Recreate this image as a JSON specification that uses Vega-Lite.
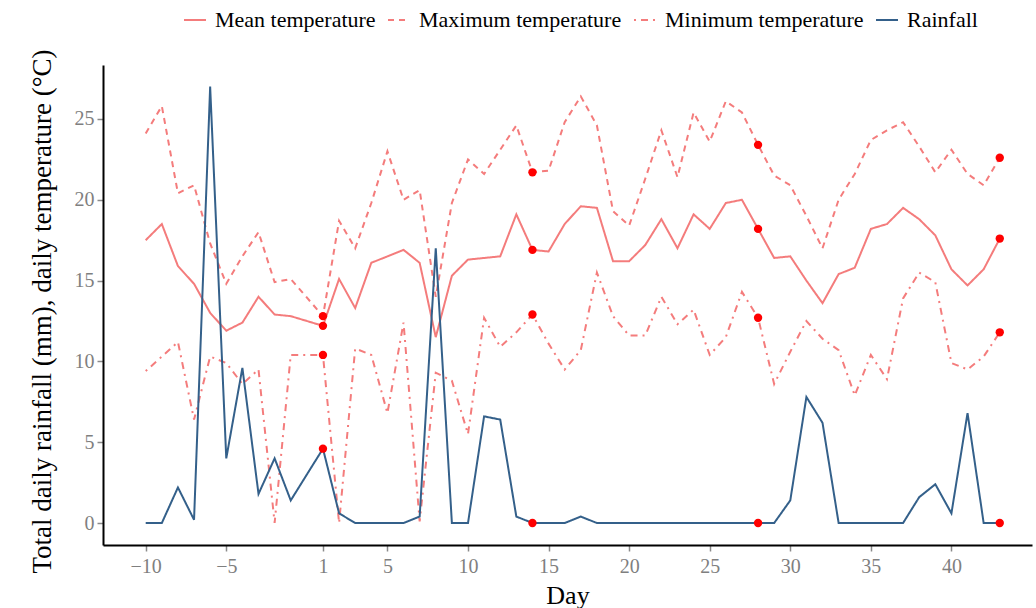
{
  "$schema": "https://vega.github.io/schema/vega-lite/v6.json",
  "width": 929,
  "height": 480,
  "autosize": {"type": "none"},
  "padding": {"left": 103, "top": 65, "right": 4, "bottom": 63},
  "background": "white",
  "config": {
    "font": "Liberation Serif",
    "view": {"stroke": null},
    "axis": {
      "grid": false,
      "domainColor": "black",
      "domainWidth": 2,
      "tickColor": "#8a8a8a",
      "tickWidth": 1.5,
      "tickSize": 6,
      "labelColor": "#7f7f7f",
      "labelFontSize": 20,
      "labelFont": "Liberation Serif",
      "titleFont": "Liberation Serif",
      "titleFontSize": 26,
      "titleFontWeight": "normal",
      "titleColor": "black"
    }
  },
  "data": {
    "values": [
      {"day": -10, "mean": 17.5, "max": 24.1, "min": 9.4, "rain": 0},
      {"day": -9, "mean": 18.5, "max": 25.8, "min": 10.3, "rain": 0},
      {"day": -8, "mean": 15.9, "max": 20.4, "min": 11.2, "rain": 2.2},
      {"day": -7, "mean": 14.8, "max": 20.9, "min": 6.4, "rain": 0.2},
      {"day": -6, "mean": 13.0, "max": 17.3, "min": 10.3, "rain": 27.0},
      {"day": -5, "mean": 11.9, "max": 14.8, "min": 9.9, "rain": 4.0},
      {"day": -4, "mean": 12.4, "max": 16.5, "min": 8.6, "rain": 9.6},
      {"day": -3, "mean": 14.0, "max": 18.0, "min": 9.5, "rain": 1.8},
      {"day": -2, "mean": 12.9, "max": 14.9, "min": 0.0, "rain": 4.0},
      {"day": -1, "mean": 12.8, "max": 15.1, "min": 10.4, "rain": 1.4},
      {"day": 1, "mean": 12.2, "max": 12.8, "min": 10.4, "rain": 4.6},
      {"day": 2, "mean": 15.1, "max": 18.7, "min": 0.0, "rain": 0.6},
      {"day": 3, "mean": 13.3, "max": 17.0, "min": 10.8, "rain": 0},
      {"day": 4, "mean": 16.1, "max": 19.8, "min": 10.4, "rain": 0},
      {"day": 5, "mean": 16.5, "max": 23.0, "min": 6.8, "rain": 0},
      {"day": 6, "mean": 16.9, "max": 20.0, "min": 12.4, "rain": 0},
      {"day": 7, "mean": 16.1, "max": 20.6, "min": 0.1, "rain": 0.4},
      {"day": 8, "mean": 11.5, "max": 14.0, "min": 9.3, "rain": 17.0},
      {"day": 9, "mean": 15.3, "max": 19.8, "min": 8.8, "rain": 0},
      {"day": 10, "mean": 16.3, "max": 22.5, "min": 5.5, "rain": 0},
      {"day": 11, "mean": 16.4, "max": 21.6, "min": 12.7, "rain": 6.6},
      {"day": 12, "mean": 16.5, "max": 23.1, "min": 10.9, "rain": 6.4},
      {"day": 13, "mean": 19.1, "max": 24.6, "min": 11.8, "rain": 0.4},
      {"day": 14, "mean": 16.9, "max": 21.7, "min": 12.9, "rain": 0},
      {"day": 15, "mean": 16.8, "max": 21.8, "min": 11.1, "rain": 0},
      {"day": 16, "mean": 18.5, "max": 24.8, "min": 9.5, "rain": 0},
      {"day": 17, "mean": 19.6, "max": 26.4, "min": 10.7, "rain": 0.4},
      {"day": 18, "mean": 19.5, "max": 24.6, "min": 15.5, "rain": 0},
      {"day": 19, "mean": 16.2, "max": 19.3, "min": 12.8, "rain": 0},
      {"day": 20, "mean": 16.2, "max": 18.4, "min": 11.6, "rain": 0},
      {"day": 21, "mean": 17.2, "max": 21.3, "min": 11.6, "rain": 0},
      {"day": 22, "mean": 18.8, "max": 24.3, "min": 14.0, "rain": 0},
      {"day": 23, "mean": 17.0, "max": 21.4, "min": 12.3, "rain": 0},
      {"day": 24, "mean": 19.1, "max": 25.4, "min": 13.2, "rain": 0},
      {"day": 25, "mean": 18.2, "max": 23.6, "min": 10.4, "rain": 0},
      {"day": 26, "mean": 19.8, "max": 26.1, "min": 11.5, "rain": 0},
      {"day": 27, "mean": 20.0, "max": 25.4, "min": 14.3, "rain": 0},
      {"day": 28, "mean": 18.2, "max": 23.4, "min": 12.7, "rain": 0},
      {"day": 29, "mean": 16.4, "max": 21.5, "min": 8.6, "rain": 0},
      {"day": 30, "mean": 16.5, "max": 20.9, "min": 10.6, "rain": 1.4},
      {"day": 31, "mean": 15.0, "max": 19.0, "min": 12.5, "rain": 7.8},
      {"day": 32, "mean": 13.6, "max": 17.0, "min": 11.4, "rain": 6.2},
      {"day": 33, "mean": 15.4, "max": 20.0, "min": 10.7, "rain": 0},
      {"day": 34, "mean": 15.8, "max": 21.6, "min": 7.9, "rain": 0},
      {"day": 35, "mean": 18.2, "max": 23.7, "min": 10.4, "rain": 0},
      {"day": 36, "mean": 18.5, "max": 24.3, "min": 8.9, "rain": 0},
      {"day": 37, "mean": 19.5, "max": 24.8, "min": 13.9, "rain": 0},
      {"day": 38, "mean": 18.8, "max": 23.3, "min": 15.5, "rain": 1.6},
      {"day": 39, "mean": 17.8, "max": 21.7, "min": 14.9, "rain": 2.4},
      {"day": 40, "mean": 15.7, "max": 23.1, "min": 9.9, "rain": 0.6},
      {"day": 41, "mean": 14.7, "max": 21.6, "min": 9.5, "rain": 6.8},
      {"day": 42, "mean": 15.7, "max": 20.9, "min": 10.3, "rain": 0},
      {"day": 43, "mean": 17.6, "max": 22.6, "min": 11.8, "rain": 0}
    ]
  },
  "transform": [{"fold": ["mean", "max", "min", "rain"], "as": ["series", "value"]}],
  "encoding": {
    "x": {
      "field": "day",
      "type": "quantitative",
      "scale": {"domain": [-12.65, 45], "nice": false, "zero": false},
      "axis": {
        "title": "Day",
        "values": [-10, -5, 1, 5, 10, 15, 20, 25, 30, 35, 40],
        "labelPadding": 5,
        "titleY": 58,
        "titleBaseline": "alphabetic",
        "titleAnchor": "middle"
      }
    },
    "y": {
      "field": "value",
      "type": "quantitative",
      "scale": {"domain": [-1.36, 28.34], "nice": false, "zero": false},
      "axis": {
        "title": "Total daily rainfall (mm), daily temperature (°C)",
        "titleFontSize": 27,
        "values": [0, 5, 10, 15, 20, 25],
        "labelPadding": 3,
        "titleX": -53,
        "titleY": 246,
        "titleAngle": -90,
        "titleBaseline": "alphabetic",
        "titleAnchor": "middle"
      }
    }
  },
  "layer": [
    {
      "mark": {"type": "line", "strokeWidth": 2},
      "encoding": {
        "color": {
          "field": "series",
          "type": "nominal",
          "sort": ["mean", "max", "min", "rain"],
          "scale": {"domain": ["mean", "max", "min", "rain"], "range": ["#F47C7C", "#F47C7C", "#F47C7C", "#34608A"]},
          "legend": {
            "title": null,
            "orient": "none",
            "legendX": 80,
            "legendY": -57,
            "direction": "horizontal",
            "symbolType": "stroke",
            "symbolSize": 484,
            "symbolStrokeWidth": 2,
            "labelFontSize": 22,
            "labelLimit": 0,
            "labelColor": "black",
            "labelFont": "Liberation Serif",
            "columnPadding": 8,
            "labelOffset": 8,
            "labelExpr": "datum.label == 'mean' ? 'Mean temperature' : datum.label == 'max' ? 'Maximum temperature' : datum.label == 'min' ? 'Minimum temperature' : 'Rainfall'"
          }
        },
        "strokeDash": {
          "field": "series",
          "type": "nominal",
          "sort": ["mean", "max", "min", "rain"],
          "scale": {"domain": ["mean", "max", "min", "rain"], "range": [[1, 0], [6, 5], [2, 5, 7, 5], [1, 0]]},
          "legend": {
            "title": null,
            "orient": "none",
            "legendX": 80,
            "legendY": -57,
            "direction": "horizontal",
            "symbolType": "stroke",
            "symbolSize": 484,
            "symbolStrokeWidth": 2,
            "labelFontSize": 22,
            "labelLimit": 0,
            "labelColor": "black",
            "labelFont": "Liberation Serif",
            "columnPadding": 8,
            "labelOffset": 8,
            "labelExpr": "datum.label == 'mean' ? 'Mean temperature' : datum.label == 'max' ? 'Maximum temperature' : datum.label == 'min' ? 'Minimum temperature' : 'Rainfall'"
          }
        }
      }
    },
    {
      "transform": [{"filter": {"field": "day", "oneOf": [1, 14, 28, 43]}}],
      "mark": {"type": "point", "filled": true, "color": "#FF0000", "size": 70, "opacity": 1}
    }
  ]
}
